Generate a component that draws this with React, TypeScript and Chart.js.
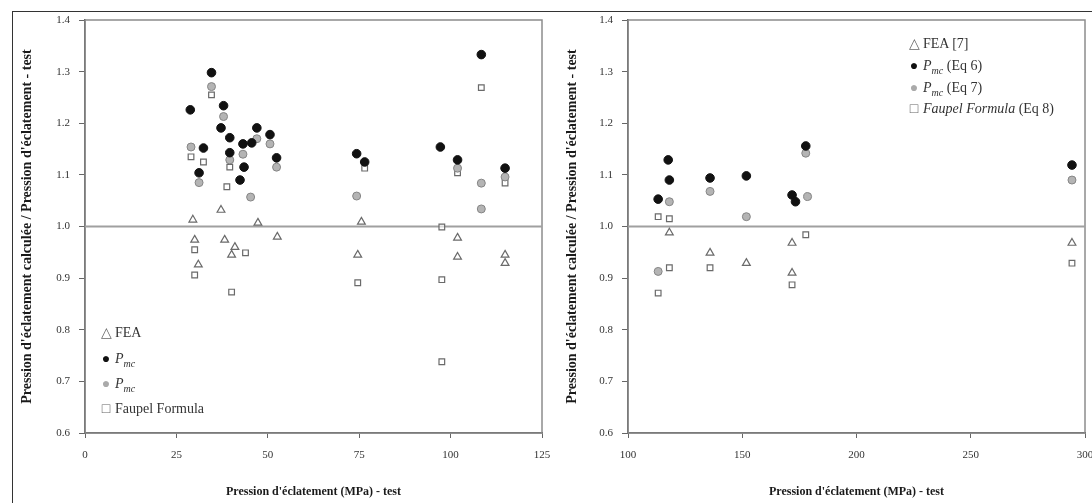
import React, { useEffect, useRef } from "react";
import { Chart, registerables } from "chart.js";

Chart.register(...registerables);

const FONT = "'Liberation Serif', 'Times New Roman', serif";

// ---------- Left panel data (burst pressure test, MPa vs ratio) ----------
const leftPmc6X = [108.4, 34.6, 28.8, 37.9, 37.2, 39.6, 47.0, 50.6, 43.2, 45.6, 32.4, 39.6, 52.4, 31.2, 42.4, 43.5, 74.3, 76.5, 97.2, 101.9, 114.9];
const leftPmc6Y = [1.333, 1.298, 1.226, 1.234, 1.191, 1.172, 1.191, 1.178, 1.160, 1.162, 1.152, 1.143, 1.133, 1.104, 1.090, 1.115, 1.141, 1.125, 1.154, 1.129, 1.113];

const leftPmc7X = [34.6, 37.9, 39.6, 29.0, 101.9, 114.9, 108.4, 74.3, 45.3, 47.0, 50.6, 52.4, 31.2, 43.2, 108.4];
const leftPmc7Y = [1.271, 1.213, 1.129, 1.154, 1.113, 1.096, 1.084, 1.059, 1.057, 1.170, 1.160, 1.115, 1.085, 1.140, 1.034];

const leftFaupelX = [108.4, 29.0, 32.4, 76.5, 101.9, 114.9, 97.6, 97.6, 97.6, 40.1, 74.6, 34.6, 39.6, 30.0, 30.0, 43.9, 38.8];
const leftFaupelY = [1.269, 1.135, 1.125, 1.113, 1.104, 1.084, 0.999, 0.897, 0.738, 0.873, 0.891, 1.255, 1.115, 0.955, 0.906, 0.949, 1.077];

const leftFeaX = [37.2, 29.5, 31.0, 30.0, 75.6, 74.6, 101.9, 101.9, 114.9, 114.9, 47.3, 38.2, 41.0, 40.1, 52.6];
const leftFeaY = [1.032, 1.013, 0.926, 0.974, 1.009, 0.945, 0.941, 0.978, 0.945, 0.929, 1.007, 0.974, 0.960, 0.945, 0.980];

const leftRefX = [0, 125];
const leftRefY = [1.0, 1.0];

// ---------- Right panel data ----------
const rightPmc6X = [113.2, 117.6, 118.1, 135.9, 151.8, 171.8, 173.3, 177.8, 294.3];
const rightPmc6Y = [1.053, 1.129, 1.090, 1.094, 1.098, 1.061, 1.048, 1.156, 1.119];

const rightPmc7X = [118.1, 135.9, 177.8, 178.6, 294.3, 151.8, 113.2];
const rightPmc7Y = [1.048, 1.068, 1.142, 1.058, 1.090, 1.019, 0.913];

const rightFeaX = [151.8, 171.8, 294.3, 118.1, 135.9, 171.8];
const rightFeaY = [0.929, 0.910, 0.968, 0.988, 0.949, 0.968];

const rightFaupelX = [113.2, 118.1, 135.9, 118.1, 113.2, 171.8, 177.8, 294.3];
const rightFaupelY = [1.019, 1.015, 0.920, 0.920, 0.871, 0.887, 0.984, 0.929];

const rightRefX = [100, 300];
const rightRefY = [1.0, 1.0];

// ---------- Axes ----------
const yMin = 0.6;
const yMax = 1.4;
const yStep = 0.1;
const leftXMin = 0;
const leftXMax = 125;
const leftXStep = 25;
const rightXMin = 100;
const rightXMax = 300;
const rightXStep = 50;

const yTitleText = "Pression d'éclatement calculée / Pression d'éclatement - test";
const xTitleText = "Pression d'éclatement (MPa) - test";

function pts(xs: number[], ys: number[]) {
  return xs.map((x, i) => ({ x, y: ys[i] }));
}

const areaFrame = {
  id: "areaFrame",
  beforeDatasetsDraw(chart: any) {
    const { ctx, chartArea: a } = chart;
    ctx.save();
    ctx.strokeStyle = "#8c8c8c";
    ctx.lineWidth = 1.5;
    ctx.strokeRect(a.left, a.top, a.right - a.left, a.bottom - a.top);
    ctx.restore();
  },
};

type PanelProps = {
  left: number;
  width: number;
  yAxisWidth: number;
  padRight: number;
  yTitlePad: number;
  xMin: number;
  xMax: number;
  xStep: number;
  pmc6: { x: number; y: number }[];
  pmc7: { x: number; y: number }[];
  fea: { x: number; y: number }[];
  faupel: { x: number; y: number }[];
  ref: { x: number; y: number }[];
};

function Panel(p: PanelProps) {
  const ref = useRef<HTMLCanvasElement | null>(null);
  useEffect(() => {
    if (!ref.current) return;
    const chart = new Chart(ref.current, {
      type: "scatter",
      data: {
        datasets: [
          {
            type: "line",
            label: "ref",
            data: p.ref,
            borderColor: "#a0a0a0",
            borderWidth: 1.8,
            pointRadius: 0,
            order: 10,
          } as any,
          {
            label: "FEA",
            data: p.fea,
            pointStyle: "triangle",
            pointRadius: 4.5,
            borderColor: "#6a6a6a",
            backgroundColor: "rgba(255,255,255,0.6)",
            borderWidth: 1.2,
            order: 4,
          },
          {
            label: "Faupel",
            data: p.faupel,
            pointStyle: "rect",
            pointRadius: 4,
            borderColor: "#6a6a6a",
            backgroundColor: "rgba(255,255,255,0.6)",
            borderWidth: 1.2,
            order: 3,
          },
          {
            label: "Pmc7",
            data: p.pmc7,
            pointStyle: "circle",
            pointRadius: 4,
            borderColor: "#858585",
            backgroundColor: "#b4b4b4",
            borderWidth: 1,
            order: 2,
          },
          {
            label: "Pmc6",
            data: p.pmc6,
            pointStyle: "circle",
            pointRadius: 4.3,
            borderColor: "#111",
            backgroundColor: "#111",
            borderWidth: 1,
            order: 1,
          },
        ],
      },
      options: {
        animation: false,
        responsive: false,
        maintainAspectRatio: false,
        layout: { padding: { top: 20, right: p.padRight, left: 0, bottom: 0 } },
        plugins: { legend: { display: false }, tooltip: { enabled: false } },
        scales: {
          x: {
            type: "linear",
            min: p.xMin,
            max: p.xMax,
            ticks: { stepSize: p.xStep, padding: 11, color: "#333", font: { family: FONT, size: 11 } },
            grid: { drawOnChartArea: false, tickLength: 5, color: "#666" },
            border: { color: "#444", width: 1.5 },
            title: {
              display: true,
              text: xTitleText,
              color: "#1a1a1a",
              font: { family: FONT, size: 12, weight: "bold" },
              padding: { top: 0, bottom: 4 },
            },
            afterFit: (s: any) => {
              s.height = 70;
            },
          },
          y: {
            type: "linear",
            min: yMin,
            max: yMax,
            ticks: {
              stepSize: yStep,
              padding: 9,
              color: "#333",
              font: { family: FONT, size: 11 },
              callback: (v: any) => Number(v).toFixed(1),
            },
            grid: { drawOnChartArea: false, tickLength: 6, color: "#666" },
            border: { color: "#444", width: 1.5 },
            title: {
              display: true,
              text: yTitleText,
              color: "#1a1a1a",
              font: { family: FONT, size: 14, weight: "bold" },
              padding: { top: p.yTitlePad, bottom: 0 },
            },
            afterFit: (s: any) => {
              s.width = p.yAxisWidth;
            },
          },
        },
      },
      plugins: [areaFrame],
    });
    return () => chart.destroy();
  }, []);
  return (
    <canvas
      ref={ref}
      width={p.width}
      height={503}
      style={{ position: "absolute", left: p.left, top: 0, width: p.width, height: 503 }}
    />
  );
}

const legendText: React.CSSProperties = {
  position: "absolute",
  fontFamily: FONT,
  fontSize: 14,
  color: "#333",
  whiteSpace: "nowrap",
  lineHeight: "16px",
};

function Sym({ kind }: { kind: string }) {
  const base: React.CSSProperties = { display: "inline-block", width: 12, marginRight: 3, textAlign: "center" };
  if (kind === "tri") return <span style={{ ...base, color: "#666" }}>△</span>;
  if (kind === "blk") return <span style={{ ...base, color: "#111" }}>●</span>;
  if (kind === "gry") return <span style={{ ...base, color: "#aaa" }}>●</span>;
  return <span style={{ ...base, color: "#666" }}>□</span>;
}

function Pmc() {
  return (
    <span>
      <i>P</i>
      <sub style={{ fontSize: 10 }}>
        <i>mc</i>
      </sub>
    </span>
  );
}

export default function App() {
  return (
    <div
      style={{
        position: "fixed",
        left: 0,
        top: 0,
        width: 1092,
        height: 503,
        overflow: "hidden",
        background: "#fff",
      }}
    >
      <Panel
        left={0}
        width={562}
        yAxisWidth={85}
        padRight={20}
        yTitlePad={19}
        xMin={leftXMin}
        xMax={leftXMax}
        xStep={leftXStep}
        pmc6={pts(leftPmc6X, leftPmc6Y)}
        pmc7={pts(leftPmc7X, leftPmc7Y)}
        fea={pts(leftFeaX, leftFeaY)}
        faupel={pts(leftFaupelX, leftFaupelY)}
        ref={pts(leftRefX, leftRefY)}
      />
      <Panel
        left={555}
        width={555}
        yAxisWidth={73}
        padRight={25}
        yTitlePad={9}
        xMin={rightXMin}
        xMax={rightXMax}
        xStep={rightXStep}
        pmc6={pts(rightPmc6X, rightPmc6Y)}
        pmc7={pts(rightPmc7X, rightPmc7Y)}
        fea={pts(rightFeaX, rightFeaY)}
        faupel={pts(rightFaupelX, rightFaupelY)}
        ref={pts(rightRefX, rightRefY)}
      />
      <div
        style={{
          position: "absolute",
          left: 12,
          top: 11,
          width: 1200,
          height: 600,
          borderTop: "1.5px solid #333",
          borderLeft: "1.5px solid #333",
          pointerEvents: "none",
        }}
      />
      {/* left legend */}
      <div style={{ ...legendText, left: 100, top: 325 }}>
        <Sym kind="tri" />FEA
      </div>
      <div style={{ ...legendText, left: 100, top: 351 }}>
        <Sym kind="blk" />
        <Pmc />
      </div>
      <div style={{ ...legendText, left: 100, top: 376 }}>
        <Sym kind="gry" />
        <Pmc />
      </div>
      <div style={{ ...legendText, left: 100, top: 401 }}>
        <Sym kind="sq" />Faupel Formula
      </div>
      {/* right legend */}
      <div style={{ ...legendText, left: 908, top: 36 }}>
        <Sym kind="tri" />FEA [7]
      </div>
      <div style={{ ...legendText, left: 908, top: 58 }}>
        <Sym kind="blk" />
        <Pmc /> (Eq 6)
      </div>
      <div style={{ ...legendText, left: 908, top: 80 }}>
        <Sym kind="gry" />
        <Pmc /> (Eq 7)
      </div>
      <div style={{ ...legendText, left: 908, top: 101 }}>
        <Sym kind="sq" />
        <i>Faupel Formula</i> (Eq 8)
      </div>
    </div>
  );
}
